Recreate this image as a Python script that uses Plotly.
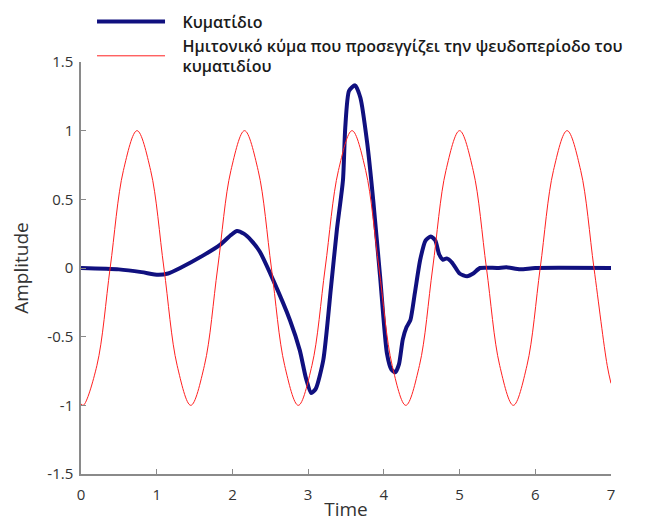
import plotly.graph_objects as go

# Wavelet samples (time, amplitude)
wavelet_t = [0.0, 0.5, 0.8, 1.02, 1.15, 1.31, 1.61, 1.84, 1.98, 2.06, 2.15, 2.25, 2.36,
             2.54, 2.76, 2.89, 2.97, 3.04, 3.1, 3.2, 3.3, 3.38, 3.46, 3.49, 3.54, 3.62,
             3.69, 3.78, 3.86, 3.95, 4.04, 4.1, 4.15, 4.2, 4.25, 4.3, 4.35, 4.41, 4.48,
             4.55, 4.62, 4.68, 4.73, 4.78, 4.83, 4.9, 5.0, 5.1, 5.18, 5.27, 5.5, 5.62,
             5.8, 6.0, 7.0]
wavelet_a = [0.0, -0.01, -0.03, -0.05, -0.04, 0.0, 0.09, 0.17, 0.24, 0.27, 0.25, 0.2, 0.12,
             -0.09, -0.38, -0.6, -0.8, -0.91, -0.88, -0.67, -0.15, 0.28, 0.64, 1.02, 1.29, 1.33,
             1.24, 0.91, 0.49, -0.06, -0.62, -0.74, -0.76, -0.7, -0.52, -0.43, -0.38, -0.18, 0.06,
             0.2, 0.23, 0.2, 0.1, 0.06, 0.07, 0.04, -0.04, -0.06, -0.04, 0.0, 0.0, 0.005,
             -0.01, 0.0, 0.0]

# Sine wave matching the wavelet's pseudo-period
sine_t = [0.0, 0.03, 0.21, 0.385, 0.56, 0.74, 0.92, 1.095, 1.27, 1.45, 1.63, 1.805, 1.98,
          2.16, 2.34, 2.515, 2.69, 2.87, 3.05, 3.225, 3.40, 3.58, 3.76, 3.935, 4.11,
          4.29, 4.47, 4.645, 4.82, 5.00, 5.18, 5.355, 5.53, 5.71, 5.89, 6.065, 6.24,
          6.42, 6.60, 6.775, 6.95, 7.0]
sine_a = [-0.99, -1, -0.71, 0, 0.71, 1, 0.71, 0, -0.71, -1, -0.71, 0, 0.71,
          1, 0.71, 0, -0.71, -1, -0.71, 0, 0.71, 1, 0.71, 0, -0.71,
          -1, -0.71, 0, 0.71, 1, 0.71, 0, -0.71, -1, -0.71, 0, 0.71,
          1, 0.71, 0, -0.71, -0.84]

x_ticks = [0, 1, 2, 3, 4, 5, 6, 7]
y_ticks = [-1.5, -1, -0.5, 0, 0.5, 1, 1.5]
y_tick_text = ["-1.5", "-1", "-0.5", "0", "0.5", "1", "1.5"]

# small gap between legend swatch and its label
pad = "\u00a0\u00a0\u00a0"

fig = go.Figure()
fig.add_trace(go.Scatter(
    x=wavelet_t, y=wavelet_a, mode="lines", name=pad + "Κυματίδιο",
    line=dict(color="#10107f", width=4, shape="spline", smoothing=0.6),
))
fig.add_trace(go.Scatter(
    x=sine_t, y=sine_a, mode="lines",
    name=pad + "Ημιτονικό κύμα που προσεγγίζει την ψευδοπερίοδο του<br>" + pad + "κυματιδίου",
    line=dict(color="#ff2020", width=1, shape="spline", smoothing=1.0),
))

axis_common = dict(
    showline=True, linecolor="#8a8a8a", linewidth=1.5,
    ticks="inside", ticklen=5, tickcolor="#8a8a8a",
    showgrid=False, zeroline=False, automargin=False,
    tickfont=dict(family="Open Sans", size=15, color="#333333"),
    mirror=False,
)

fig.update_layout(
    width=646, height=522,
    margin=dict(l=81, r=35, t=62, b=48, autoexpand=False),
    paper_bgcolor="white", plot_bgcolor="white",
    xaxis=dict(range=[0, 7], tickvals=x_ticks, ticklabelstandoff=6, **axis_common,
               title=dict(text="Time", font=dict(family="Open Sans", size=19, color="#333333"),
                          standoff=2)),
    yaxis=dict(range=[-1.5, 1.5], tickvals=y_ticks, ticktext=y_tick_text,
               ticklabelstandoff=3, **axis_common,
               title=dict(text="Amplitude", font=dict(family="Open Sans", size=19, color="#333333"),
                          standoff=14)),
    legend=dict(
        x=0.0208, xanchor="left", y=0.991, yref="container", yanchor="top",
        bgcolor="rgba(0,0,0,0)",
        font=dict(family="Open Sans", size=16, color="#1a1a1a", weight=600),
        itemwidth=68, tracegroupgap=0,
    ),
    showlegend=True,
)

fig.write_html("out.html")
